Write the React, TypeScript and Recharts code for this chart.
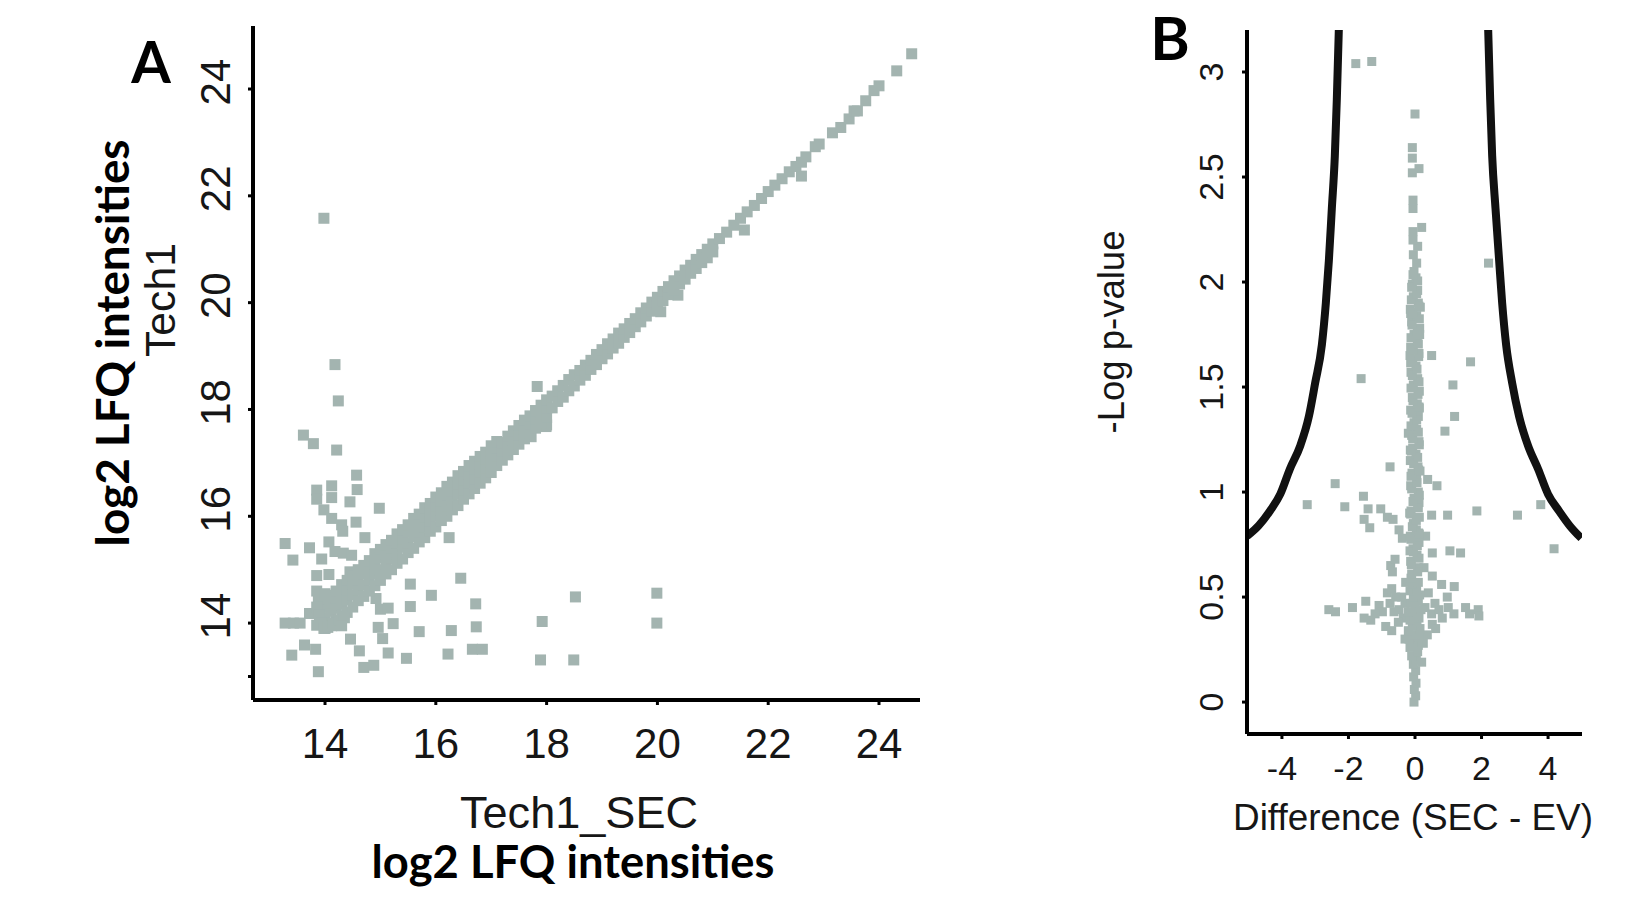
import React from "react";
import { ScatterChart, ComposedChart, Scatter, Line, XAxis, YAxis } from "recharts";

type Pt = [number, number];

// ---------- panel A : Tech1 vs Tech1_SEC ----------
const aXTicks = [14, 16, 18, 20, 22, 24];
const aYTicks = [13, 14, 16, 18, 20, 22, 24];

// dense part of the diagonal: [x, y1, y2, ...]
const aBandLow: number[][] = [
  [14.0, 13.92, 14.1, 14.3, 14.45], [14.1, 14.0, 14.22, 14.38, 14.52],
  [14.2, 14.05, 14.28, 14.47, 14.6], [14.3, 14.14, 14.35, 14.55, 14.72],
  [14.4, 14.2, 14.44, 14.62, 14.8], [14.5, 14.3, 14.53, 14.73, 14.88],
  [14.6, 14.42, 14.62, 14.8, 15.0], [14.7, 14.5, 14.71, 14.92, 15.08],
  [14.8, 14.6, 14.8, 15.0, 15.17], [14.9, 14.7, 14.92, 15.1, 15.3],
  [15.0, 14.8, 15.0, 15.22, 15.38], [15.1, 14.92, 15.1, 15.3, 15.47],
  [15.2, 15.0, 15.21, 15.4, 15.55], [15.3, 15.12, 15.3, 15.5, 15.67],
  [15.4, 15.2, 15.42, 15.58, 15.75], [15.5, 15.32, 15.5, 15.7, 15.84],
  [15.6, 15.4, 15.62, 15.78, 15.96], [15.7, 15.52, 15.7, 15.9, 16.04],
  [15.8, 15.6, 15.8, 15.98, 16.16], [15.9, 15.72, 15.92, 16.08, 16.24],
  [16.0, 15.8, 16.0, 16.2, 16.36], [16.1, 15.92, 16.12, 16.28, 16.44],
  [16.2, 16.0, 16.2, 16.4, 16.56], [16.3, 16.12, 16.3, 16.48, 16.64],
  [16.4, 16.2, 16.42, 16.6, 16.76], [16.5, 16.32, 16.5, 16.68, 16.84],
  [16.6, 16.42, 16.62, 16.8, 16.95], [16.7, 16.52, 16.7, 16.88, 17.03],
  [16.8, 16.62, 16.82, 16.98, 17.12], [16.9, 16.72, 16.9, 17.08, 17.2],
  [17.0, 16.82, 17.02, 17.18, 17.32], [17.1, 16.95, 17.12, 17.28, 17.4],
  [17.2, 17.05, 17.22, 17.38], [17.3, 17.15, 17.33, 17.5],
  [17.4, 17.25, 17.42, 17.6], [17.5, 17.35, 17.52, 17.7],
  [17.6, 17.45, 17.63, 17.8], [17.7, 17.55, 17.72, 17.88],
  [17.8, 17.65, 17.83, 17.98], [17.9, 17.75, 17.92, 18.08],
  [18.0, 17.85, 18.02, 18.18],
];

const aBandMid: number[][] = [
  [18.1, 18.03, 18.25], [18.2, 18.15, 18.35], [18.3, 18.23, 18.45], [18.4, 18.35, 18.56],
  [18.5, 18.44, 18.65], [18.6, 18.55, 18.73], [18.7, 18.64, 18.83], [18.8, 18.75, 18.92],
  [18.9, 18.84, 19.03], [19.0, 18.95, 19.12], [19.1, 19.04, 19.23], [19.2, 19.15, 19.32],
  [19.3, 19.24, 19.43], [19.4, 19.35, 19.51], [19.5, 19.44, 19.61], [19.6, 19.55, 19.7],
  [19.7, 19.64, 19.81], [19.8, 19.75, 19.9], [19.9, 19.84, 20.01], [20.0, 19.95, 20.1],
  [20.1, 20.04, 20.21], [20.2, 20.15, 20.3], [20.3, 20.24, 20.41], [20.4, 20.35, 20.5],
  [20.5, 20.44, 20.61], [20.6, 20.55, 20.7], [20.7, 20.64, 20.81], [20.8, 20.75, 20.9],
  [20.9, 20.84, 21.0], [21.0, 20.95, 21.1],
];

const aBandHigh: Pt[] = [
  [21.12, 21.2], [21.25, 21.32], [21.38, 21.45], [21.5, 21.58], [21.62, 21.7],
  [21.75, 21.82], [21.88, 21.95], [22.0, 22.08], [22.12, 22.2], [22.25, 22.32],
  [22.38, 22.45], [22.5, 22.55], [22.6, 22.63], [22.68, 22.73], [22.85, 22.92],
  [22.92, 22.97], [23.16, 23.18], [23.31, 23.28], [23.46, 23.44], [23.55, 23.59],
  [23.61, 23.59], [23.76, 23.78], [23.91, 23.97], [24.0, 24.06], [24.32, 24.34],
  [24.59, 24.66],
];

const aHook: Pt[] = [
  [13.85, 14.6], [13.88, 14.45], [13.85, 14.3], [13.9, 14.15], [13.92, 14.0],
  [13.98, 13.9], [14.05, 13.92], [14.0, 14.55], [14.12, 13.95], [14.15, 14.0],
  [14.25, 14.05], [14.35, 14.1], [14.3, 13.95],
];

const aOutliers: Pt[] = [
  [14.24, 18.16], [14.18, 18.84], [13.61, 17.52], [13.79, 17.36], [14.21, 17.24],
  [14.57, 16.77], [13.85, 16.49], [14.12, 16.57], [14.58, 16.5], [13.85, 16.32],
  [14.12, 16.35], [14.45, 16.27], [14.98, 16.15], [13.98, 16.12], [14.12, 15.96],
  [14.3, 15.84], [14.32, 15.72], [14.56, 15.89], [14.72, 15.6], [16.24, 15.6],
  [13.28, 15.49], [13.72, 15.41], [14.07, 15.52], [14.18, 15.34], [14.33, 15.31],
  [14.48, 15.27], [13.42, 15.18], [13.94, 15.2], [13.85, 14.89], [14.07, 14.91],
  [14.45, 14.96], [15.54, 14.73], [16.45, 14.84], [15.92, 14.52], [14.92, 14.46],
  [16.72, 14.36], [15.54, 14.31], [15.0, 14.26], [15.14, 14.28], [18.52, 14.49],
  [13.72, 14.18], [13.28, 14.0], [13.43, 14.0], [13.55, 14.0], [13.85, 13.96],
  [14.0, 13.9], [14.27, 13.96], [14.96, 13.92], [15.23, 13.99], [15.7, 13.84],
  [16.28, 13.86], [16.73, 13.93], [17.92, 14.03], [14.46, 13.7], [15.04, 13.71],
  [13.63, 13.59], [13.83, 13.51], [13.4, 13.4], [14.62, 13.48], [15.14, 13.44],
  [15.47, 13.34], [16.22, 13.42], [16.66, 13.51], [16.84, 13.51], [17.89, 13.31],
  [18.49, 13.31], [13.88, 13.09], [14.7, 13.17], [14.88, 13.21], [19.99, 14.56],
  [19.99, 14.0], [13.98, 21.58], [17.83, 18.43], [17.99, 17.68], [17.72, 17.49],
  [22.6, 22.37], [21.57, 21.36], [20.37, 20.14], [20.06, 19.83], [18.0, 17.71],
];

// ---------- panel B : volcano plot ----------
const bXTicks = [-4, -2, 0, 2, 4];
const bYTicks = [0, 0.5, 1, 1.5, 2, 2.5, 3];

const bColumn: Pt[] = [
  [-0.03, 0.0], [0.02, 0.03], [-0.02, 0.06], [0.03, 0.09], [-0.04, 0.12], [0.02, 0.15],
  [-0.05, 0.18], [0.04, 0.2], [-0.1, 0.22], [0.08, 0.24], [-0.15, 0.26], [0.1, 0.27],
  [-0.05, 0.28], [-0.18, 0.3], [0.12, 0.31], [0.0, 0.32], [-0.2, 0.34], [0.15, 0.35],
  [-0.08, 0.36], [0.06, 0.38], [-0.15, 0.39], [0.12, 0.4], [-0.02, 0.41], [-0.2, 0.43],
  [0.18, 0.44], [0.0, 0.45], [-0.12, 0.47], [0.1, 0.48], [-0.05, 0.5], [0.14, 0.51],
  [-0.15, 0.53], [0.05, 0.54], [-0.08, 0.56], [0.1, 0.57], [-0.12, 0.59],
  [-0.1, 0.61], [0.1, 0.64], [-0.13, 0.67], [0.06, 0.7], [-0.06, 0.73], [0.12, 0.76],
  [-0.14, 0.79], [0.04, 0.82], [-0.05, 0.85], [0.13, 0.88], [-0.12, 0.91], [0.08, 0.94],
  [-0.03, 0.97], [0.1, 1.0], [-0.13, 1.03], [0.05, 1.06], [-0.09, 1.09], [0.09, 1.12],
  [-0.14, 1.15], [0.03, 1.18], [-0.07, 1.21], [0.12, 1.24], [-0.1, 1.27], [0.05, 1.3],
  [-0.03, 1.33], [0.1, 1.36], [-0.13, 1.39], [0.07, 1.42], [-0.08, 1.45], [0.13, 1.48],
  [-0.05, 1.51], [0.08, 1.54], [-0.12, 1.57], [0.03, 1.6], [-0.07, 1.63], [0.12, 1.66],
  [-0.13, 1.69], [0.07, 1.72], [-0.03, 1.75], [0.14, 1.78], [-0.1, 1.81], [0.05, 1.84],
  [-0.14, 1.87], [0.1, 1.9], [-0.05, 1.93], [0.08, 1.96], [-0.08, 1.99], [0.03, 2.02],
  [-0.03, 2.05], [-0.15, 0.72], [0.12, 0.95], [-0.14, 1.2], [0.15, 1.1], [-0.2, 1.28],
  [0.13, 1.4], [-0.15, 1.65], [0.14, 1.75], [-0.13, 1.85], [0.16, 1.88], [0.13, 0.8],
  [-0.16, 0.9], [0.05, 2.09], [-0.05, 2.13], [0.08, 2.17], [-0.06, 2.2], [0.2, 2.26],
  [-0.06, 2.24], [-0.06, 2.35], [-0.06, 2.39], [-0.08, 2.52], [0.12, 2.54], [-0.08, 2.59],
  [-0.08, 2.64], [0.0, 2.8],
];

// second layer of the same column, filling the gaps
const bColumnFill: Pt[] = [
  [0.08, 0.62], [-0.11, 0.655], [0.12, 0.685], [-0.05, 0.715], [0.07, 0.745],
  [-0.12, 0.775], [0.11, 0.805], [-0.08, 0.835], [0.04, 0.865], [-0.13, 0.895],
  [0.1, 0.925], [-0.06, 0.955], [0.13, 0.985], [-0.1, 1.015], [0.06, 1.045],
  [-0.12, 1.075], [0.11, 1.105], [-0.04, 1.135], [0.08, 1.165], [-0.11, 1.195],
  [0.13, 1.225], [-0.07, 1.255], [0.1, 1.285], [-0.12, 1.315], [0.05, 1.345],
  [-0.09, 1.375], [0.12, 1.405], [-0.06, 1.435], [0.09, 1.465], [-0.12, 1.495],
  [0.12, 1.525], [-0.08, 1.555], [0.06, 1.585], [-0.13, 1.615], [0.11, 1.645],
  [-0.05, 1.675], [0.1, 1.705], [-0.12, 1.735], [0.07, 1.765], [-0.09, 1.795],
  [0.13, 1.825], [-0.07, 1.855], [0.12, 1.885], [-0.11, 1.915], [0.05, 1.945],
  [-0.1, 1.975], [0.08, 2.005], [-0.06, 2.035],
];

const bSpread: Pt[] = [
  [-1.78, 3.04], [-1.3, 3.05], [2.21, 2.09], [0.5, 1.65], [1.67, 1.62], [-1.62, 1.54],
  [1.14, 1.51], [1.19, 1.36], [0.9, 1.29], [-0.75, 1.12], [-2.4, 1.04], [0.38, 1.06],
  [0.66, 1.03], [-3.24, 0.94], [-2.11, 0.93], [-1.55, 0.98], [-1.41, 0.92], [-1.03, 0.92],
  [-0.83, 0.88], [-0.66, 0.87], [-1.53, 0.87], [-1.36, 0.83], [-0.48, 0.82], [1.86, 0.91],
  [3.08, 0.89], [3.78, 0.94], [0.98, 0.89], [0.5, 0.89], [4.18, 0.73], [1.05, 0.72],
  [1.37, 0.71], [0.52, 0.71], [0.32, 0.79], [-0.38, 0.78], [-0.73, 0.65], [-0.6, 0.68],
  [-0.68, 0.62], [0.27, 0.64], [0.52, 0.6], [0.8, 0.56], [1.18, 0.55], [-0.28, 0.57],
  [-2.59, 0.44], [-2.39, 0.43], [-1.88, 0.45], [-1.48, 0.48], [-1.53, 0.4], [-1.33, 0.39],
  [-1.08, 0.46], [-0.83, 0.52], [-0.58, 0.5], [-0.88, 0.36], [-0.7, 0.34], [-0.98, 0.43],
  [-0.63, 0.43], [-0.48, 0.44], [-1.2, 0.42], [-0.75, 0.47], [-0.35, 0.4], [-0.3, 0.47],
  [0.5, 0.42], [0.72, 0.44], [0.97, 0.5], [0.82, 0.4], [0.52, 0.37], [1.17, 0.42],
  [1.52, 0.45], [1.64, 0.42], [1.9, 0.44], [1.92, 0.41], [0.37, 0.32], [0.2, 0.19],
  [0.3, 0.45], [0.6, 0.47], [1.0, 0.45], [0.4, 0.52], [-0.3, 0.3], [0.25, 0.28],
  [-0.5, 0.38], [-0.4, 0.5], [-0.7, 0.54], [0.62, 0.35],
];

const bCurveLeft: Pt[] = [
  [-5.05, 0.79], [-4.7, 0.84], [-4.36, 0.91], [-4.05, 0.99], [-3.76, 1.11], [-3.45, 1.22],
  [-3.19, 1.36], [-3.0, 1.52], [-2.8, 1.7], [-2.68, 1.9], [-2.59, 2.1], [-2.5, 2.35],
  [-2.41, 2.6], [-2.35, 2.87], [-2.29, 3.2],
];
const bCurveRight: Pt[] = [
  [2.2, 3.2], [2.26, 2.87], [2.32, 2.6], [2.42, 2.35], [2.53, 2.1], [2.62, 1.9],
  [2.74, 1.7], [2.92, 1.52], [3.13, 1.36], [3.4, 1.22], [3.7, 1.11], [4.0, 0.99],
  [4.33, 0.91], [4.65, 0.84], [5.0, 0.78],
];

// ---------- helpers ----------
const POINT = "#a3b4b0";
const INK = "#161616";
const SANS = "'Liberation Sans', Arial, sans-serif";
const BOLD = "Lato, 'Open Sans', sans-serif";

const toPts = (arr: Pt[]) => arr.map(([x, y]) => ({ x, y }));
const rowsToPts = (rows: number[][]) =>
  rows.flatMap(([x, ...ys]) => ys.map((y) => ({ x, y })));

const square = (size: number) => (props: any) =>
  (
    <rect
      x={props.cx - size / 2}
      y={props.cy - size / 2}
      width={size}
      height={size}
      fill={POINT}
    />
  );

const xTick = (fontSize: number) => (props: any) =>
  (
    <text
      x={props.x}
      y={props.y}
      dy="0.71em"
      textAnchor="middle"
      fontSize={fontSize}
      fontFamily={SANS}
      fill={INK}
    >
      {props.payload.value}
    </text>
  );

const yTick = (fontSize: number, shift: number, hide: number[] = []) => (props: any) => {
  if (hide.includes(props.payload.value)) return <g />;
  return (
    <text
      x={props.x}
      y={props.y}
      dx={shift}
      dy="0.36em"
      transform={`rotate(-90, ${props.x}, ${props.y})`}
      textAnchor="middle"
      fontSize={fontSize}
      fontFamily={SANS}
      fill={INK}
    >
      {props.payload.value}
    </text>
  );
};

const axisLine = { stroke: "#000", strokeWidth: 4 };
const tickLine = { stroke: "#000", strokeWidth: 3 };

export default function App() {
  const bandPts = [...rowsToPts(aBandLow), ...rowsToPts(aBandMid), ...toPts(aBandHigh), ...toPts(aHook)];
  const columnPts = [...toPts(bColumn), ...toPts(bColumnFill)];

  return (
    <div
      style={{
        position: "absolute",
        left: 0,
        top: 0,
        width: 1633,
        height: 916,
        background: "#fff",
        overflow: "hidden",
      }}
    >
      <div style={{ position: "absolute", left: 0, top: 0 }}>
        <ScatterChart
          width={960}
          height={916}
          margin={{ top: 26, right: 40, bottom: 166, left: 173 }}
        >
          <XAxis
            type="number"
            dataKey="x"
            domain={[12.7, 24.74]}
            ticks={aXTicks}
            interval={0}
            allowDataOverflow
            height={50}
            tickSize={5}
            tickMargin={23}
            axisLine={axisLine}
            tickLine={tickLine}
            tick={xTick(42)}
          />
          <YAxis
            type="number"
            dataKey="y"
            domain={[12.56, 25.18]}
            ticks={aYTicks}
            interval={0}
            allowDataOverflow
            width={80}
            tickSize={5}
            tickMargin={33}
            axisLine={axisLine}
            tickLine={tickLine}
            tick={yTick(42, 7, [13])}
          />
          <Scatter data={toPts(aOutliers)} shape={square(11)} isAnimationActive={false} />
          <Scatter data={bandPts} shape={square(11)} isAnimationActive={false} />
        </ScatterChart>
      </div>

      <div style={{ position: "absolute", left: 1100, top: 0 }}>
        <ComposedChart
          width={533}
          height={916}
          margin={{ top: 30, right: 51, bottom: 132, left: 87 }}
        >
          <XAxis
            type="number"
            dataKey="x"
            domain={[-5.05, 5.02]}
            ticks={bXTicks}
            interval={0}
            allowDataOverflow
            height={50}
            tickSize={5}
            tickMargin={17}
            axisLine={axisLine}
            tickLine={tickLine}
            tick={xTick(34)}
          />
          <YAxis
            type="number"
            dataKey="y"
            domain={[-0.152, 3.2]}
            ticks={bYTicks}
            interval={0}
            allowDataOverflow
            width={60}
            tickSize={5}
            tickMargin={31}
            axisLine={axisLine}
            tickLine={tickLine}
            tick={yTick(34, 0)}
          />
          <Line
            data={toPts(bCurveLeft)}
            dataKey="y"
            type="monotone"
            stroke="#111"
            strokeWidth={8}
            dot={false}
            activeDot={false}
            isAnimationActive={false}
          />
          <Line
            data={toPts(bCurveRight)}
            dataKey="y"
            type="monotone"
            stroke="#111"
            strokeWidth={8}
            dot={false}
            activeDot={false}
            isAnimationActive={false}
          />
          <Scatter data={toPts(bSpread)} shape={square(9)} isAnimationActive={false} />
          <Scatter data={columnPts} shape={square(9)} isAnimationActive={false} />
        </ComposedChart>
      </div>

      <svg
        width={1633}
        height={916}
        style={{ position: "absolute", left: 0, top: 0, pointerEvents: "none" }}
      >
        <text x={151} y={83} textAnchor="middle" fontFamily={BOLD} fontWeight={700} fontSize={57} fill="#000">
          A
        </text>
        <text x={1170} y={60} textAnchor="middle" fontFamily={BOLD} fontWeight={700} fontSize={60} fill="#000">
          B
        </text>

        <text
          transform="translate(129, 343) rotate(-90)"
          textAnchor="middle"
          fontFamily={BOLD}
          fontWeight={700}
          fontSize={46}
          textLength={407}
          lengthAdjust="spacingAndGlyphs"
          fill="#000"
        >
          log2 LFQ intensities
        </text>
        <text
          transform="translate(175, 300) rotate(-90)"
          textAnchor="middle"
          fontFamily={SANS}
          fontSize={43}
          textLength={114}
          lengthAdjust="spacingAndGlyphs"
          fill={INK}
        >
          Tech1
        </text>

        <text
          x={579}
          y={828}
          textAnchor="middle"
          fontFamily={SANS}
          fontSize={44}
          textLength={238}
          lengthAdjust="spacingAndGlyphs"
          fill={INK}
        >
          Tech1_SEC
        </text>
        <text
          x={573}
          y={878}
          textAnchor="middle"
          fontFamily={BOLD}
          fontWeight={700}
          fontSize={46}
          textLength={403}
          lengthAdjust="spacingAndGlyphs"
          fill="#000"
        >
          log2 LFQ intensities
        </text>

        <text
          transform="translate(1124, 332) rotate(-90)"
          textAnchor="middle"
          fontFamily={SANS}
          fontSize={36}
          textLength={203}
          lengthAdjust="spacingAndGlyphs"
          fill={INK}
        >
          -Log p-value
        </text>
        <text
          x={1413}
          y={830}
          textAnchor="middle"
          fontFamily={SANS}
          fontSize={36}
          textLength={360}
          lengthAdjust="spacingAndGlyphs"
          fill={INK}
        >
          Difference (SEC - EV)
        </text>
      </svg>
    </div>
  );
}
